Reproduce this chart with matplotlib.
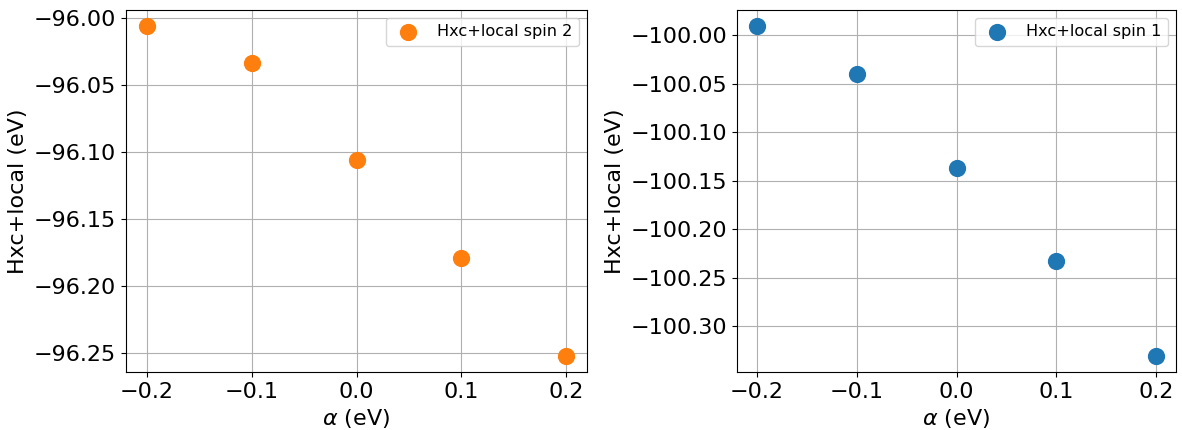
import matplotlib
matplotlib.use('Agg')
import matplotlib.pyplot as plt

# Data
alpha = [-0.2, -0.1, 0.0, 0.1, 0.2]
hxc_spin2 = [-96.006, -96.033, -96.106, -96.179, -96.252]
hxc_spin1 = [-99.991, -100.040, -100.137, -100.233, -100.330]

fig = plt.figure(figsize=(11.82, 4.30), dpi=100)
ax1 = fig.add_axes([126/1182, 58/430, 461/1182, 362/430])
ax2 = fig.add_axes([737/1182, 58/430, 439/1182, 362/430])

ax1.scatter(alpha, hxc_spin2, s=130, color='tab:orange', label='Hxc+local spin 2')
ax2.scatter(alpha, hxc_spin1, s=130, color='tab:blue', label='Hxc+local spin 1')

for ax in (ax1, ax2):
    ax.set_xlabel(r'$\alpha$ (eV)', fontsize=16)
    ax.set_ylabel('Hxc+local (eV)', fontsize=16)
    ax.tick_params(labelsize=16)
    ax.grid(True)
    ax.set_axisbelow(True)
    ax.legend(loc='upper right', fontsize=11.6)

fig.savefig('out.png', dpi=100)
